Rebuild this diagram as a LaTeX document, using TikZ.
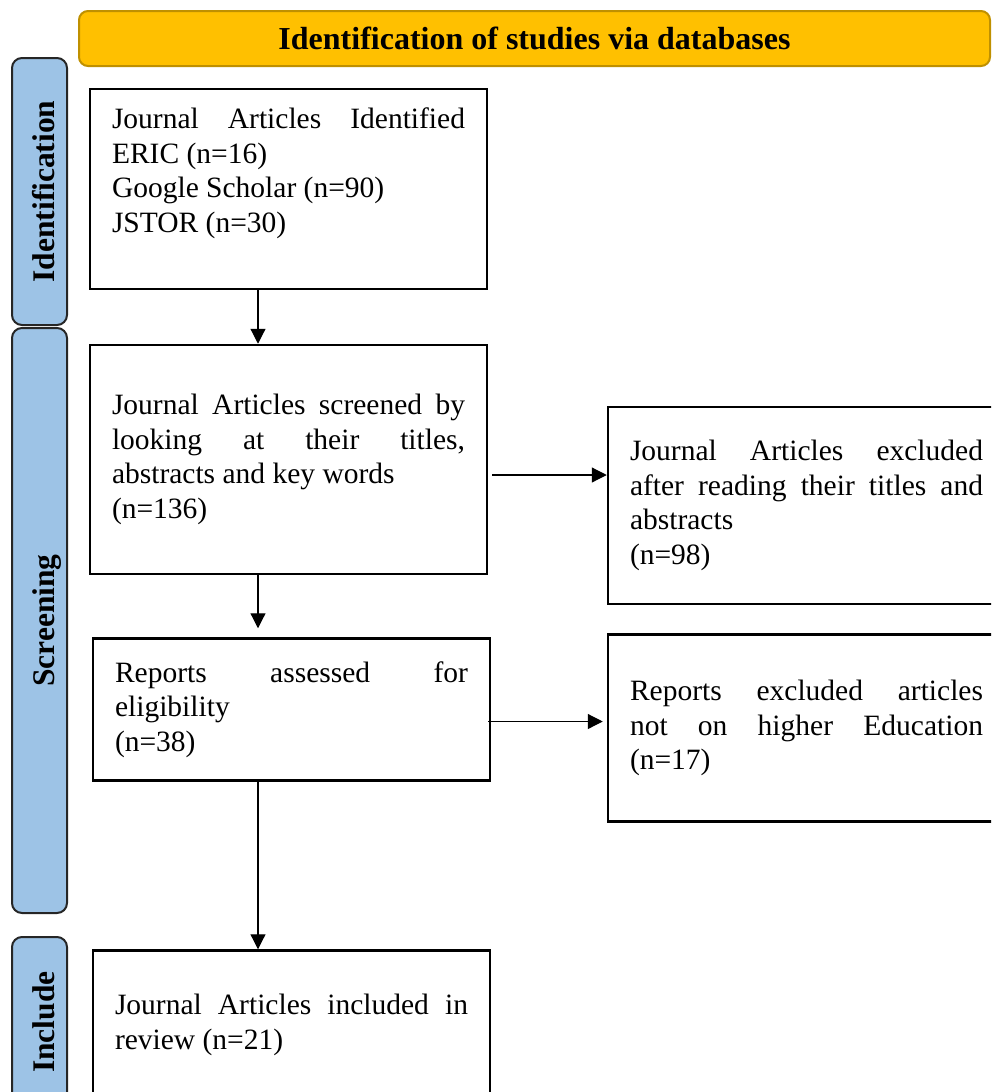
\documentclass[tikz,border=0pt]{standalone}
\usepackage{fontspec}
\setmainfont{Liberation Serif}
\usepackage{xcolor}
\usetikzlibrary{arrows.meta}
\definecolor{headfill}{HTML}{FFC000}
\definecolor{headdraw}{HTML}{BF9000}
\definecolor{stagefill}{HTML}{9DC3E6}
\tikzstyle{boxes} = [rectangle, draw=black, line width=2.5pt, inner xsep=22pt, inner ysep=0pt,
text width=353pt, align=justify, font=\fontsize{29.5}{34.5}\selectfont]
\tikzstyle{stage} = [rectangle, rounded corners=10pt, draw=black!85, line width=2pt, fill=stagefill,
minimum height=55pt, rotate=90, text height=29pt, text depth=0pt, font=\fontsize{31.5}{36}\selectfont\bfseries]
\tikzstyle{heading} = [rectangle, rounded corners=9pt, draw=headdraw, line width=2pt, fill=headfill,
minimum width=911pt, minimum height=55pt, font=\fontsize{32}{36}\selectfont\bfseries]
\tikzstyle{arr} = [-{Triangle[length=15pt,width=15pt]}, line width=1.2pt]

\begin{document}
\begin{tikzpicture}[x=1pt, y=1pt, node distance=250pt]
            \useasboundingbox (0,0) rectangle (991,-1092);
            \clip (0,0) rectangle (991,-1092);

            % Heading and stages
            \node(head) [heading] at (534.5,-38.5) {Identification of studies via databases};
            \node(sident) [stage, minimum width=267pt] at (39.5,-191.5) {Identification};
            \node(sscreen) [stage, minimum width=585pt] at (39.5,-620.5) {Screening};
            \node(sincl) [stage, minimum width=170pt] at (39.5,-1022) {Include};

            % Main boxes
            \node(ident) [boxes, minimum height=200pt] at (288.5,-189) {Journal Articles Identified\linebreak ERIC (n=16)\\ Google Scholar (n=90)\\ JSTOR (n=30)\rule[-38pt]{0pt}{0pt}};
            \node(screen) [boxes, minimum height=229pt, below of=ident, yshift=-20.5pt] {Journal Articles screened by\linebreak looking at their titles,\linebreak abstracts and key words\\ (n=136)};
            \node(report) [boxes, minimum height=142pt, below of=screen, xshift=3pt] {Reports assessed for\linebreak eligibility\\ (n=38)};
            \node(incl) [boxes, minimum height=149pt, below of=report, yshift=-65.5pt] {Journal Articles included in\linebreak review (n=21)};

            % Excluded boxes
            \node(excl) [boxes, minimum height=197pt, right of=screen, xshift=268pt, yshift=-46pt] {Journal Articles excluded\linebreak after reading their titles and\linebreak abstracts\\ (n=98)};
            \node(rexcl) [boxes, minimum height=187pt, right of=report, xshift=265pt, yshift=-18.5pt] {Reports excluded articles\linebreak not on higher Education\linebreak (n=17)};

            % Draw Arrows
            \draw[arr] ([xshift=-30.5pt]ident.south) -- ([xshift=-30.5pt]screen.north);
            \draw[arr] ([xshift=-30.5pt]screen.south) -- ([xshift=-33.5pt,yshift=9pt]report.north);
            \draw[arr] ([xshift=-33.5pt]report.south) -- ([xshift=-33.5pt]incl.north);
            \draw[arr] ([xshift=4pt,yshift=-15.5pt]screen.east) -- ([yshift=30.5pt]excl.west);
            \draw[arr] ([xshift=-3pt,yshift=-12pt]report.east) -- ([xshift=-4pt,yshift=6.5pt]rexcl.west);
\end{tikzpicture}
\end{document}
